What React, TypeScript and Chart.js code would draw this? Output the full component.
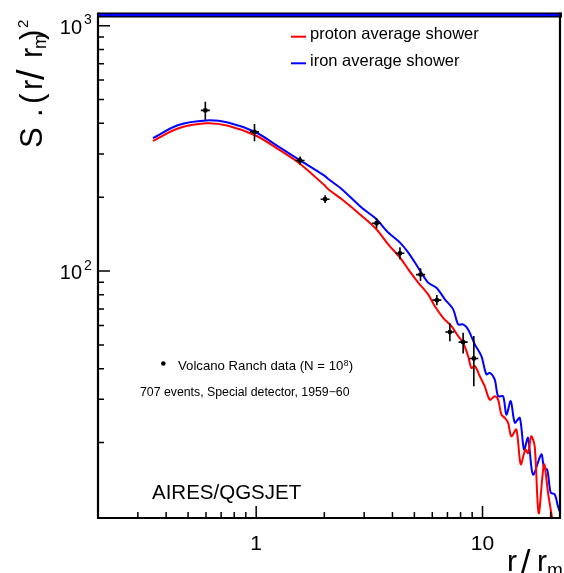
import React, { useEffect, useRef } from "react";
import { Chart, registerables } from "chart.js";

Chart.register(...registerables);

// ---- data ----
const redX = [0.35, 0.45, 0.6, 0.75, 1.0, 1.25, 1.55, 2.0, 2.09, 2.39, 2.92, 3.40, 3.83, 4.32, 4.70, 5.20, 5.75, 6.16, 6.70, 7.29, 7.81, 8.21, 8.64, 8.93, 9.25, 9.73, 10.23, 10.77, 11.33, 11.72, 12.12, 12.54, 12.97, 13.41, 14.11, 14.75, 15.46, 15.89, 16.43, 17.01, 17.71, 18.70, 19.47, 20.14, 20.6];
const redY = [339, 381, 400, 391, 356, 314, 275, 224, 215, 196, 168, 148, 128.5, 113.4, 101.6, 89.7, 80.3, 71.9, 64.5, 59.6, 54.3, 51.0, 45.0, 40.3, 41.0, 37.3, 33.9, 29.9, 30.9, 29.9, 26.0, 25.2, 24.1, 21.2, 22.6, 16.3, 18.7, 18.1, 21.2, 19.3, 10.3, 16.3, 12.5, 10.3, 9.0];

const blueX = [0.35, 0.45, 0.6, 0.75, 1.0, 1.25, 1.55, 2.0, 2.09, 2.39, 2.92, 3.40, 3.83, 4.32, 4.70, 5.20, 5.75, 6.26, 6.82, 7.42, 7.81, 8.21, 8.64, 9.25, 9.89, 10.40, 10.77, 11.33, 11.72, 12.33, 12.75, 13.33, 13.89, 14.61, 15.26, 15.89, 16.72, 18.19, 18.70, 19.33, 20.01, 20.84, 21.55, 22.15];
const blueY = [348, 393, 411, 403, 367, 322, 284, 245, 236.7, 215.6, 181.5, 162.6, 143.5, 130.6, 118.9, 103.2, 89.7, 85.5, 76.7, 69.8, 60.6, 60.6, 57.8, 50.2, 45.0, 37.9, 38.5, 36.1, 30.9, 30.9, 26.0, 29.5, 24.1, 25.2, 18.7, 20.9, 14.8, 17.9, 15.8, 15.5, 12.5, 12.3, 11.0, 10.2];

const dataX = [0.596, 0.983, 1.563, 2.016, 3.404, 4.317, 5.322, 6.286, 7.174, 8.212, 9.155];
const dataY = [451.6, 369.3, 282.2, 196.2, 156.6, 118.1, 96.7, 76.1, 56.4, 51.3, 44.0];
const dataHi = [489.7, 397.2, 293, 203.5, 164, 125, 102.6, 79.8, 61.2, 56.1, 54.3];
const dataLo = [413.3, 338.4, 272, 189.2, 149.4, 111.6, 91.1, 72.6, 51.8, 46.1, 33.9];

const xMin = 0.2;
const xMax = 22;
const yMin = 9.85;
const yMax = 1116;

const yMajorTicks = [100, 1000];
const yMajorExp = ["2", "3"];
const yMinorTicks = [20, 30, 40, 50, 60, 70, 80, 90, 200, 300, 400, 500, 600, 700, 800, 900];
const xMajorTicks = [1, 10];
const xMajorLabels = ["1", "10"];
const xMinorTicks = [0.3, 0.4, 0.5, 0.6, 0.7, 0.8, 0.9, 2, 3, 4, 5, 6, 7, 8, 9, 20];

const legendLabels = ["proton average shower", "iron average shower"];
const RED = "#ff0000";
const BLUE = "#0000ff";
const FONT = '"Liberation Sans", Arial, sans-serif';

function text(ctx: CanvasRenderingContext2D, s: string, x: number, y: number, size: number, align: CanvasTextAlign = "left") {
  ctx.font = `${size}px ${FONT}`;
  ctx.textAlign = align;
  ctx.textBaseline = "alphabetic";
  ctx.fillText(s, x, y);
}

const rootPlugin = {
  id: "rootStyle",
  afterDatasetsDraw(chart: any) {
    const ctx: CanvasRenderingContext2D = chart.ctx;
    const xs = chart.scales.x;
    const ys = chart.scales.y;
    ctx.save();
    ctx.strokeStyle = "#000";
    ctx.fillStyle = "#000";
    ctx.lineWidth = 1.6;
    for (let i = 0; i < dataX.length; i++) {
      const px = xs.getPixelForValue(dataX[i]);
      const py = ys.getPixelForValue(dataY[i]);
      const ph = ys.getPixelForValue(dataHi[i]);
      const pl = ys.getPixelForValue(dataLo[i]);
      ctx.beginPath();
      ctx.moveTo(px, ph);
      ctx.lineTo(px, pl);
      ctx.moveTo(px - 4.5, py);
      ctx.lineTo(px + 4.5, py);
      ctx.stroke();
    }
    ctx.restore();
  },
  afterDraw(chart: any) {
    const ctx: CanvasRenderingContext2D = chart.ctx;
    const xs = chart.scales.x;
    const ys = chart.scales.y;
    const { left, right, top, bottom } = chart.chartArea;
    ctx.save();
    // top band
    ctx.fillStyle = "#000";
    ctx.fillRect(left, top - 1.5, right - left + 2, 5);
    ctx.fillStyle = BLUE;
    ctx.fillRect(left + 1, top - 0.2, right - left, 2.4);
    // frame
    ctx.strokeStyle = "#000";
    ctx.lineWidth = 2.2;
    ctx.beginPath();
    ctx.moveTo(left, top - 1.5);
    ctx.lineTo(left, bottom);
    ctx.lineTo(right + 1, bottom);
    ctx.moveTo(right, top - 1.5);
    ctx.lineTo(right, bottom);
    ctx.stroke();
    // ticks
    ctx.lineWidth = 1.5;
    ctx.beginPath();
    for (const v of yMajorTicks) {
      const p = ys.getPixelForValue(v);
      ctx.moveTo(left, p);
      ctx.lineTo(left + 12, p);
    }
    for (const v of yMinorTicks) {
      const p = ys.getPixelForValue(v);
      ctx.moveTo(left, p);
      ctx.lineTo(left + 6, p);
    }
    for (const v of xMajorTicks) {
      const p = xs.getPixelForValue(v);
      ctx.moveTo(p, bottom);
      ctx.lineTo(p, bottom - 12);
    }
    for (const v of xMinorTicks) {
      const p = xs.getPixelForValue(v);
      ctx.moveTo(p, bottom);
      ctx.lineTo(p, bottom - 6);
    }
    ctx.stroke();
    // tick labels
    ctx.fillStyle = "#000";
    yMajorTicks.forEach((v, i) => {
      const p = ys.getPixelForValue(v);
      text(ctx, "10", 82, p + 8, 20, "right");
      text(ctx, yMajorExp[i], 84, p - 1.5, 14, "left");
    });
    xMajorTicks.forEach((v, i) => {
      const p = xs.getPixelForValue(v);
      text(ctx, xMajorLabels[i], p, bottom + 32, 21, "center");
    });
    // x title
    text(ctx, "r", 507, 571, 30);
    text(ctx, "/", 521, 573, 34);
    text(ctx, "r", 537, 571, 30);
    text(ctx, "m", 547, 576, 19);
    // y title (rotated)
    ctx.save();
    ctx.translate(42, 0);
    ctx.rotate(-Math.PI / 2);
    const yt: [string, number, number, number][] = [
      ["S", -148, 0, 31],
      [".", -117, 0, 31],
      ["(", -104, 0, 31],
      ["r", -90, 0, 31],
      ["/", -80, 2, 38],
      ["r", -58, 0, 31],
      ["m", -49, 3.5, 18],
      [")", -40, 0, 31],
      ["2", -28, -14, 15],
    ];
    for (const [s, x, dy, size] of yt) text(ctx, s, x, dy, size);
    ctx.restore();
    // legend
    const legendColors = [RED, BLUE];
    legendLabels.forEach((lab, i) => {
      const y = 36.7 + i * 26.6;
      ctx.strokeStyle = legendColors[i];
      ctx.lineWidth = 2;
      ctx.beginPath();
      ctx.moveTo(291, y);
      ctx.lineTo(306, y);
      ctx.stroke();
      ctx.fillStyle = "#000";
      text(ctx, lab, 310, y + 2.3, 16.5);
    });
    // annotations
    ctx.fillStyle = "#000";
    ctx.beginPath();
    ctx.arc(163.3, 363.5, 2.3, 0, Math.PI * 2);
    ctx.fill();
    text(ctx, "Volcano Ranch data (N = 10", 178, 370, 13.2);
    ctx.font = `13.2px ${FONT}`;
    const w = ctx.measureText("Volcano Ranch data (N = 10").width;
    text(ctx, "8", 178 + w + 0.5, 366, 8.5);
    text(ctx, ")", 178 + w + 5.5, 370, 13.2);
    text(ctx, "707 events, Special detector, 1959\u221260", 140, 396, 12.3);
    text(ctx, "AIRES/QGSJET", 152, 499, 20.5);
    ctx.restore();
  },
};

export default function App() {
  const ref = useRef<HTMLCanvasElement>(null);
  useEffect(() => {
    document.body.style.margin = "0";
    const canvas = ref.current!;
    const chart = new Chart(canvas, {
      type: "line",
      data: {
        datasets: [
          {
            label: "Volcano Ranch data",
            data: dataX.map((x, i) => ({ x, y: dataY[i] })),
            showLine: false,
            pointRadius: 2.4,
            pointBackgroundColor: "#000",
            pointBorderColor: "#000",
            pointBorderWidth: 0,
          },
          {
            label: legendLabels[0],
            data: redX.map((x, i) => ({ x, y: redY[i] })),
            borderColor: RED,
            borderWidth: 2,
            pointRadius: 0,
            tension: 0.3,
            fill: false,
          },
          {
            label: legendLabels[1],
            data: blueX.map((x, i) => ({ x, y: blueY[i] })),
            borderColor: BLUE,
            borderWidth: 2,
            pointRadius: 0,
            tension: 0.3,
            fill: false,
          },
        ],
      },
      options: {
        animation: false,
        responsive: false,
        devicePixelRatio: 1,
        events: [],
        layout: { padding: { left: 98, right: 2, top: 14, bottom: 55 } },
        plugins: { legend: { display: false }, tooltip: { enabled: false } },
        scales: {
          x: { type: "logarithmic", min: xMin, max: xMax, display: false },
          y: { type: "logarithmic", min: yMin, max: yMax, display: false },
        },
      },
      plugins: [rootPlugin],
    });
    return () => chart.destroy();
  }, []);
  return (
    <div style={{ position: "fixed", left: 0, top: 0, width: 564, height: 573, background: "#fff" }}>
      <canvas ref={ref} width={564} height={573} style={{ display: "block", width: 564, height: 573 }} />
    </div>
  );
}
